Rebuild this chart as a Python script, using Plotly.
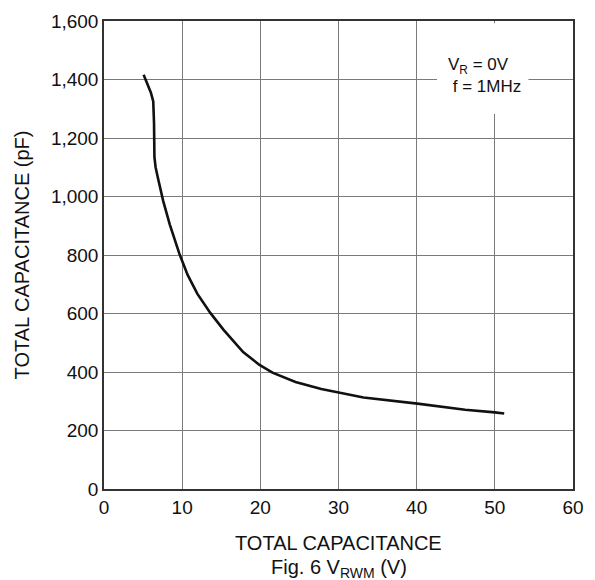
import plotly.graph_objects as go

# Data
vrwm = [5.07, 5.5, 6.0, 6.3, 6.4, 6.45, 6.6, 6.95, 7.57, 8.41, 9.24, 9.66, 10.7, 11.95,
        13.6, 15.3, 17.8, 19.9, 21.55, 24.5, 27.8, 30.7, 33.2, 40.1, 46.2, 50.0, 51.2]
capacitance = [1416, 1390, 1355, 1325, 1250, 1135, 1100, 1057, 985, 905, 834, 803, 732, 667,
               602, 544, 468, 424, 398, 366, 342, 327, 313, 292, 271, 262, 258]

x_ticks = [0, 10, 20, 30, 40, 50, 60]
y_ticks = [0, 200, 400, 600, 800, 1000, 1200, 1400, 1600]

FONT = "Liberation Sans, Arial, sans-serif"

fig = go.Figure()
fig.add_trace(go.Scatter(x=vrwm, y=capacitance, mode="lines",
                         line=dict(color="#111111", width=2.6),
                         showlegend=False, hoverinfo="skip"))

fig.update_layout(
    width=595, height=580,
    margin=dict(l=104, r=11, t=11, b=91),
    paper_bgcolor="white", plot_bgcolor="white",
    font=dict(family=FONT, color="#111111", size=19),
)
fig.update_xaxes(range=[0, 60], tickvals=x_ticks, ticktext=[str(v) for v in x_ticks],
                 showgrid=True, gridcolor="#7a7a7a", gridwidth=1,
                 showline=True, linecolor="#333333", linewidth=1.5, mirror=True,
                 ticks="", zeroline=False, tickfont=dict(size=19))
fig.update_yaxes(range=[0, 1600], tickvals=y_ticks, tickformat=",d",
                 showgrid=True, gridcolor="#7a7a7a", gridwidth=1,
                 showline=True, linecolor="#333333", linewidth=1.5, mirror=True,
                 ticks="", zeroline=False, tickfont=dict(size=19),
                 title=dict(text="TOTAL CAPACITANCE (pF)", font=dict(size=20), standoff=16))

# x-axis title (two lines, tighter spacing than <br>)
fig.add_annotation(xref="x", yref="paper", x=30, y=-0.116, yanchor="middle",
                   text="TOTAL CAPACITANCE", showarrow=False, font=dict(size=20))
fig.add_annotation(xref="x", yref="paper", x=30, y=-0.170, yanchor="middle",
                   text="Fig. 6 V<sub>RWM</sub> (V)", showarrow=False, font=dict(size=20))

# white box behind the condition note (hides the grid there)
fig.add_shape(type="rect", xref="x", yref="y", x0=42.6, x1=54.3, y0=1282, y1=1592,
              fillcolor="white", line=dict(width=0), layer="above")
fig.add_annotation(xref="x", yref="y", x=43.8, y=1412, xanchor="left", yanchor="middle",
                   text="V<sub>R</sub> = 0V<br> f = 1MHz", showarrow=False,
                   align="left", font=dict(size=17, color="#111111"))

fig.write_html("out.html")
